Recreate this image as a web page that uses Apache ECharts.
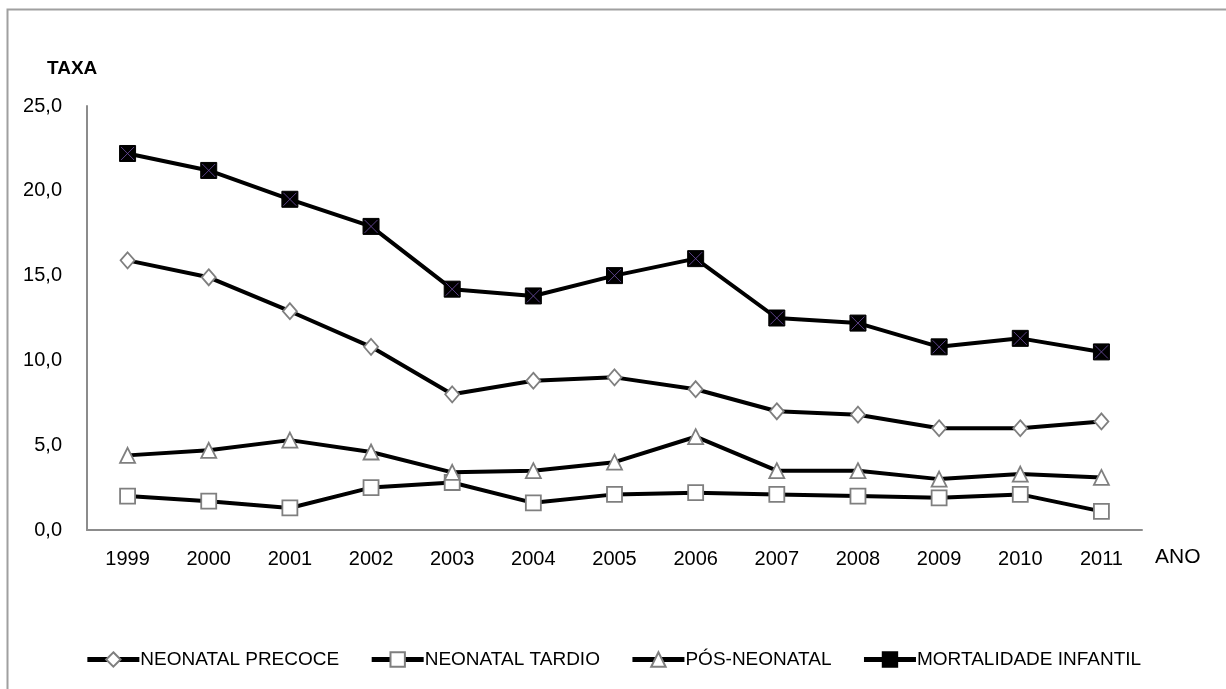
<!DOCTYPE html>
<html><head><meta charset="utf-8">
<script src="https://cdn.jsdelivr.net/npm/echarts@6/dist/echarts.min.js"></script>
<style>html,body{margin:0;padding:0;background:#fff}#c{width:1226px;height:689px}</style>
</head><body><div id="c"></div>
<script>
const categories = ['1999','2000','2001','2002','2003','2004','2005','2006','2007','2008','2009','2010','2011'];
const neonatalPrecoce = [15.9, 14.9, 12.9, 10.8, 8.0, 8.8, 9.0, 8.3, 7.0, 6.8, 6.0, 6.0, 6.4];
const neonatalTardio = [2.0, 1.7, 1.3, 2.5, 2.8, 1.6, 2.1, 2.2, 2.1, 2.0, 1.9, 2.1, 1.1];
const posNeonatal = [4.4, 4.7, 5.3, 4.6, 3.4, 3.5, 4.0, 5.5, 3.5, 3.5, 3.0, 3.3, 3.1];
const mortalidadeInfantil = [22.2, 21.2, 19.5, 17.9, 14.2, 13.8, 15.0, 16.0, 12.5, 12.2, 10.8, 11.3, 10.5];
const yTicks = [0, 5, 10, 15, 20, 25];

const FONT = 'Liberation Sans';
const chart = echarts.init(document.getElementById('c'), null, {renderer: 'canvas'});
const hollow = {color: '#fff', borderColor: '#7f7f7f', borderWidth: 1.8};
const line = {color: '#000', width: 4};
function lineSeries(name, data, symbol, size, itemStyle) {
  return {name, type: 'line', data, symbol, symbolSize: size, showAllSymbol: true,
    lineStyle: line, itemStyle, emphasis: {disabled: true}, animation: false, z: 3};
}
chart.setOption({
  animation: false,
  grid: {left: 87, right: 84, top: 106, bottom: 159, containLabel: false},
  xAxis: {type: 'category', data: categories, boundaryGap: true,
    axisLine: {lineStyle: {color: '#8c8c8c', width: 2}}, axisTick: {show: false},
    axisLabel: {color: '#000', fontFamily: FONT, fontSize: 20, margin: 19}},
  yAxis: {type: 'value', min: yTicks[0], max: yTicks[yTicks.length - 1], interval: 5,
    splitLine: {show: false},
    axisLine: {show: true, lineStyle: {color: '#8c8c8c', width: 2}}, axisTick: {show: false},
    axisLabel: {color: '#000', fontFamily: FONT, fontSize: 20, margin: 25,
      formatter: v => v.toFixed(1).replace('.', ',')}},
  legend: {data: ['NEONATAL PRECOCE', 'NEONATAL TARDIO', 'PÓS-NEONATAL', 'MORTALIDADE INFANTIL'],
    left: 'center', top: 645, itemWidth: 52, itemHeight: 18, itemGap: 30,
    lineStyle: {width: 5, color: '#000'},
    textStyle: {color: '#000', fontFamily: FONT, fontSize: 19, padding: [0, 0, 0, -4]}},
  graphic: [
    {type: 'rect', shape: {x: 7.5, y: 9.5, width: 1400, height: 900}, style: {fill: 'none', stroke: '#a0a0a0', lineWidth: 2}, silent: true},
    {type: 'text', left: 47, top: 59, style: {text: 'TAXA', font: 'bold 19px "Liberation Sans"', fill: '#000'}},
    {type: 'text', left: 1155, top: 547, style: {text: 'ANO', font: '21px "Liberation Sans"', fill: '#000'}}
  ],
  series: [
    lineSeries('NEONATAL PRECOCE', neonatalPrecoce, 'diamond', [14, 16], hollow),
    lineSeries('NEONATAL TARDIO', neonatalTardio, 'rect', 15, hollow),
    lineSeries('PÓS-NEONATAL', posNeonatal, 'triangle', 15, hollow),
    lineSeries('MORTALIDADE INFANTIL', mortalidadeInfantil, 'rect', 16, {color: '#000', borderColor: '#000', borderWidth: 1}),
    {name: 'X', type: 'scatter', data: mortalidadeInfantil, symbol: 'path://M0,0L10,10M10,0L0,10', symbolSize: 13,
      itemStyle: {color: 'none', borderColor: '#7050a8', borderWidth: 1}, z: 5, silent: true, animation: false}
  ]
});
</script></body></html>
